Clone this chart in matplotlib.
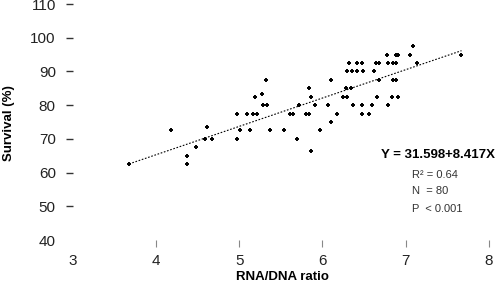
import matplotlib
matplotlib.use("Agg")
import matplotlib.pyplot as plt
import numpy as np

plt.rcParams["font.family"] = ["Liberation Sans", "DejaVu Sans"]

# RNA/DNA ratio (x) and survival % (y)
rna_dna = [7.09,
           6.77, 6.88, 6.91, 7.05, 7.66,
           6.32, 6.41, 6.48, 6.64, 6.68, 6.79, 6.85, 6.88, 7.13,
           6.29, 6.35, 6.41, 6.49, 6.62,
           5.32, 6.10, 6.68, 6.85, 6.88,
           5.84, 6.28, 6.34,
           5.27,
           5.19, 5.86, 6.25, 6.30, 6.66, 6.84, 6.91,
           5.29, 5.34, 5.72, 5.91, 6.07, 6.37, 6.48, 6.59, 6.79,
           4.97, 5.09, 5.17, 5.21, 5.61, 5.65, 5.80, 5.84, 6.18, 6.48, 6.56,
           6.10,
           4.61,
           4.18, 5.01, 5.13, 5.37, 5.54, 5.97,
           4.59, 4.67, 4.97, 5.69,
           4.48, 5.86,
           4.38,
           3.68, 4.38]
survival = [97.5,
            95, 95, 95, 95, 95,
            92.5, 92.5, 92.5, 92.5, 92.5, 92.5, 92.5, 92.5, 92.5,
            90, 90, 90, 90, 90,
            87.5, 87.5, 87.5, 87.5, 87.5,
            85, 85, 85,
            83.3,
            82.5, 82.5, 82.5, 82.5, 82.5, 82.5, 82.5,
            80, 80, 80, 80, 80, 80, 80, 80, 80,
            77.5, 77.5, 77.5, 77.5, 77.5, 77.5, 77.5, 77.5, 77.5, 77.5, 77.5,
            75,
            73.5,
            72.5, 72.5, 72.5, 72.5, 72.5, 72.5,
            70, 70, 70, 70,
            67.5, 66.5,
            65,
            62.5, 62.5]

intercept = 31.598
slope = 8.417
fit_range = [3.68, 7.67]

xticks = [3, 4, 5, 6, 7, 8]
yticks = [40, 50, 60, 70, 80, 90, 100, 110]

fig = plt.figure(figsize=(5.01, 2.82), dpi=100)
ax = fig.add_axes([72.5 / 501, 1 - 240 / 282, (489 - 72.5) / 501, 236 / 282])

ax.plot(rna_dna, survival, "+", color="black", ms=3.5, mew=1.4)
fx = np.array(fit_range)
ax.plot(fx, intercept + slope * fx, color="black", lw=0.8, ls=(0, (1.5, 1.5)))

ax.set_xlim(3, 8)
ax.set_ylim(40, 110)
ax.set_xticks(xticks)
ax.set_yticks(yticks)
for s in ax.spines.values():
    s.set_visible(False)

ax.tick_params(axis="y", length=5, width=1, color="#333333", pad=7,
               labelsize=11, labelcolor="#222222")
ax.tick_params(axis="x", length=5, width=0.8, color="#888888", pad=5,
               labelsize=11, labelcolor="#222222")
# no tick marks at the origin
ax.xaxis.get_major_ticks()[0].tick1line.set_visible(False)
ax.yaxis.get_major_ticks()[0].tick1line.set_visible(False)

fig.text(9 / 501, 1 - 123 / 282, "Survival (%)", rotation=90, ha="center",
         va="center", fontsize=9.5, fontweight="bold")
fig.text(282 / 501, 1 - 271 / 282, "RNA/DNA ratio", ha="center", va="top",
         fontsize=9.5, fontweight="bold")

fig.text(495 / 501, 1 - 155 / 282, "Y = 31.598+8.417X", ha="right",
         va="center", fontsize=9.5, fontweight="bold")
fig.text(412 / 501, 1 - 175 / 282, "R² = 0.64", ha="left", va="center",
         fontsize=8, color="#333333")
fig.text(412 / 501, 1 - 191 / 282, "N  = 80", ha="left", va="center",
         fontsize=8, color="#333333")
fig.text(412 / 501, 1 - 209 / 282, "P  < 0.001", ha="left", va="center",
         fontsize=8, color="#333333")

fig.savefig("out.png", dpi=100)
